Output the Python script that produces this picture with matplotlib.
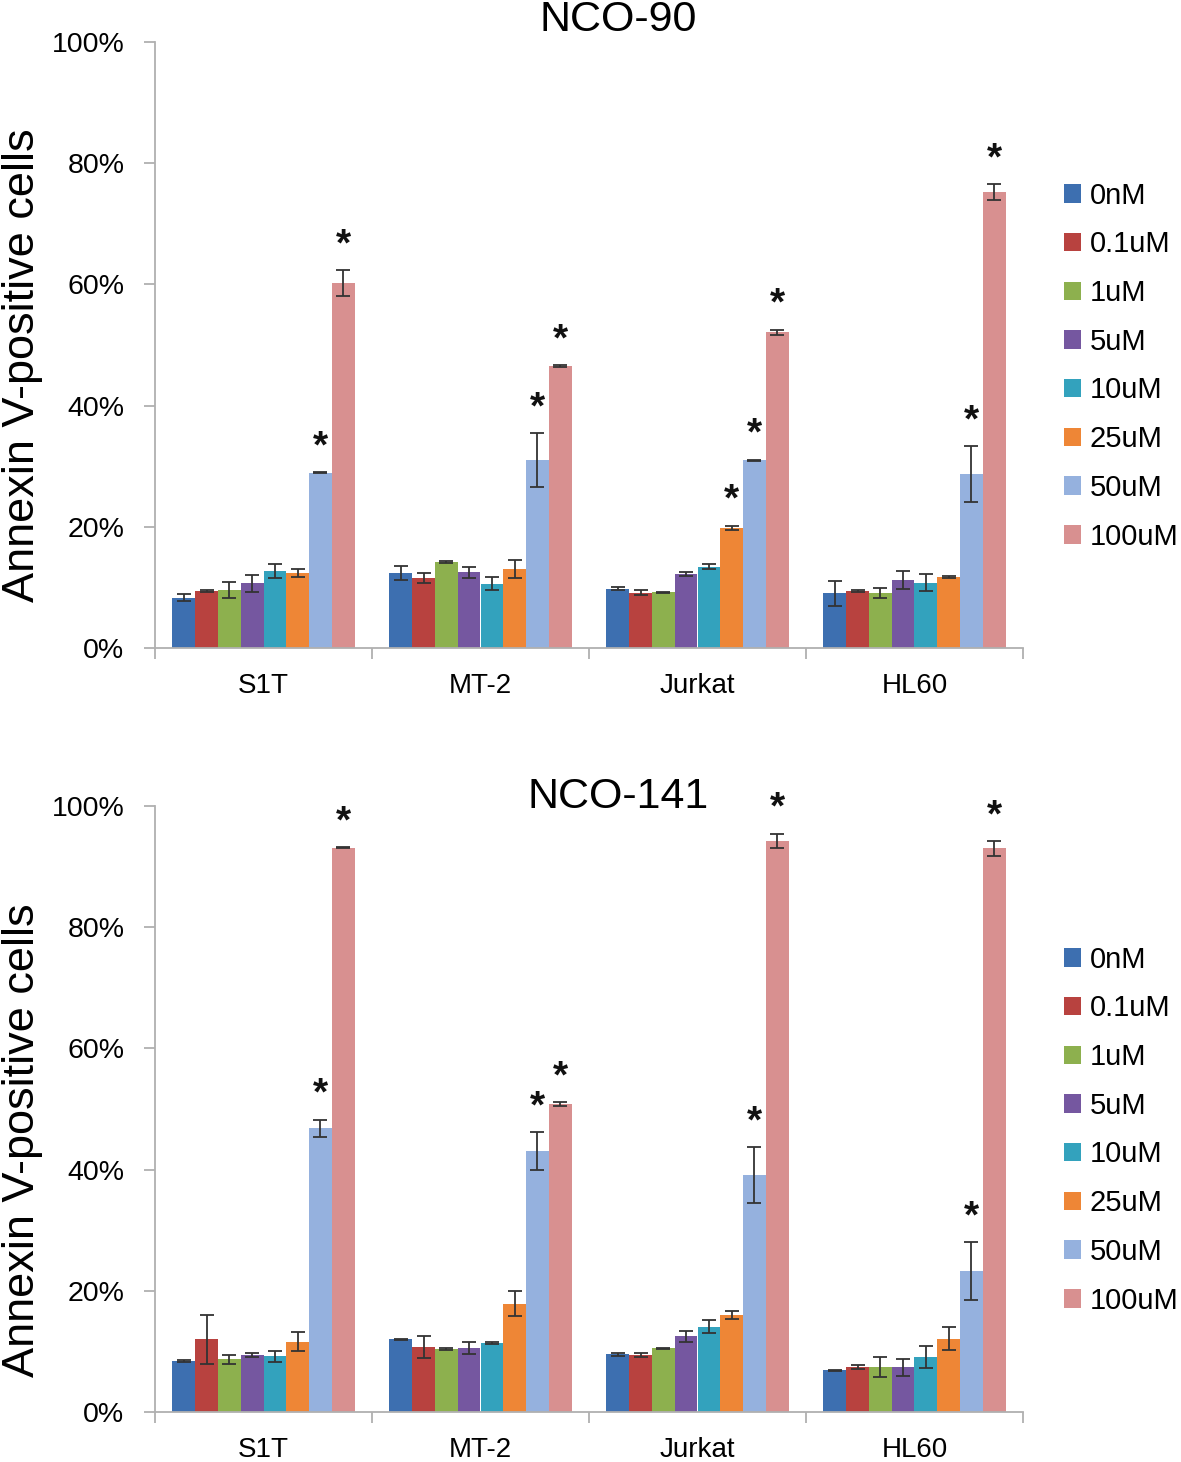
import numpy as np
import matplotlib
matplotlib.use('Agg')
import matplotlib.pyplot as plt
from matplotlib.ticker import FixedLocator, PercentFormatter

plt.rcParams['font.family'] = ['Liberation Sans', 'DejaVu Sans']

cells = ["S1T", "MT-2", "Jurkat", "HL60"]
doses = ["0nM", "0.1uM", "1uM", "5uM", "10uM", "25uM", "50uM", "100uM"]
colores = ["#3d6fb0", "#b8423f", "#8db04e", "#7557a0", "#33a2bd", "#ee8636", "#95b1de", "#d89090"]

# NCO-90, valores en % (filas = linea celular, columnas = dosis)
nco90 = np.array([
    [8.3, 9.4, 9.6, 10.7, 12.7, 12.4, 28.9, 60.2],
    [12.4, 11.6, 14.2, 12.5, 10.6, 13.0, 31.0, 46.5],
    [9.8, 9.1, 9.2, 12.2, 13.4, 19.8, 31.0, 52.1],
    [9.0, 9.4, 9.1, 11.2, 10.8, 11.7, 28.7, 75.2],
])
nco90_err = np.array([
    [0.6, 0.2, 1.3, 1.4, 1.2, 0.7, 0.1, 2.1],
    [1.1, 0.8, 0.2, 0.9, 1.1, 1.5, 4.4, 0.2],
    [0.2, 0.4, 0.1, 0.3, 0.4, 0.4, 0.1, 0.4],
    [2.0, 0.2, 0.8, 1.5, 1.4, 0.2, 4.6, 1.3],
])
nco90_sig = [[6, 7], [6, 7], [5, 6, 7], [6, 7]]

# NCO-141
nco141 = np.array([
    [8.4, 12.0, 8.7, 9.4, 9.2, 11.6, 46.8, 93.1],
    [12.0, 10.7, 10.4, 10.6, 11.4, 17.9, 43.1, 50.8],
    [9.5, 9.4, 10.5, 12.5, 14.1, 16.0, 39.1, 94.2],
    [6.9, 7.4, 7.4, 7.4, 9.1, 12.1, 23.2, 93.0],
])
nco141_err = np.array([
    [0.1, 4.0, 0.7, 0.3, 0.9, 1.6, 1.4, 0.1],
    [0.1, 1.8, 0.2, 1.0, 0.2, 2.0, 3.1, 0.3],
    [0.2, 0.3, 0.1, 0.9, 1.1, 0.7, 4.6, 1.2],
    [0.1, 0.3, 1.6, 1.4, 1.8, 1.9, 4.8, 1.2],
])
nco141_sig = [[6, 7], [6, 7], [6, 7], [6, 7]]

fig = plt.figure(figsize=(11.81, 14.62), dpi=100)
gris = "#b0b0b0"


def panel(rect, datos, err, sig, titulo, ty, ly, legy):
    ax = fig.add_axes(rect)
    x = np.arange(len(cells))
    w = 0.105
    barras = []
    for j in range(len(doses)):
        xs = x + (j - 3.5) * w
        b = ax.bar(xs, datos[:, j], w, color=colores[j], label=doses[j], zorder=2)
        ax.errorbar(xs, datos[:, j], yerr=err[:, j], fmt='none', ecolor='#333333',
                    elinewidth=1.3, capsize=5, capthick=1.3, zorder=3)
        barras.append(b)
        for i in range(len(cells)):
            if j in sig[i]:
                ax.annotate("*", (xs[i], datos[i, j] + err[i, j]), xytext=(0, 5),
                            textcoords='offset points', ha='center', va='bottom',
                            fontsize=28, fontweight='bold', color='#111111')
    ax.set_xlim(-0.5, 3.5)
    ax.set_ylim(0, 100)
    ax.set_yticks(np.arange(0, 101, 20))
    ax.yaxis.set_major_formatter(PercentFormatter(decimals=0))
    ax.set_xticks(np.arange(-0.5, 3.6, 1))
    ax.set_xticklabels([])
    ax.xaxis.set_minor_locator(FixedLocator(x))
    ax.set_xticklabels(cells, minor=True)
    ax.tick_params(axis='x', which='major', direction='out', length=8, width=1.3, color=gris)
    ax.tick_params(axis='x', which='minor', length=0, pad=18, labelsize=20)
    ax.tick_params(axis='y', direction='out', length=8, width=1.3, color=gris, pad=14, labelsize=20.5)
    for s in ['top', 'right']:
        ax.spines[s].set_visible(False)
    for s in ['left', 'bottom']:
        ax.spines[s].set_color(gris)
        ax.spines[s].set_linewidth(1.3)
    fig.text(618 / 1181, 1 - ty / 1462, titulo, ha='center', va='center', fontsize=31)
    fig.text(23 / 1181, 1 - ly / 1462, "Annexin V-positive cells", rotation=90,
             ha='center', va='center', fontsize=32.5)
    fig.legend(handles=barras, labels=doses, loc='upper left',
               bbox_to_anchor=(1052 / 1181, 1 - legy / 1462), frameon=False,
               fontsize=21, handlelength=0.6, handleheight=0.6, handletextpad=0.3,
               labelspacing=0.71, borderaxespad=0)
    return ax


panel([155 / 1181, (1462 - 648) / 1462, 868 / 1181, 606 / 1462], nco90, nco90_err,
      nco90_sig, "NCO-90", 20, 365, 170)
panel([155 / 1181, (1462 - 1412) / 1462, 868 / 1181, 606 / 1462], nco141, nco141_err,
      nco141_sig, "NCO-141", 797, 1140, 934)

plt.savefig("out.png", dpi=100)
